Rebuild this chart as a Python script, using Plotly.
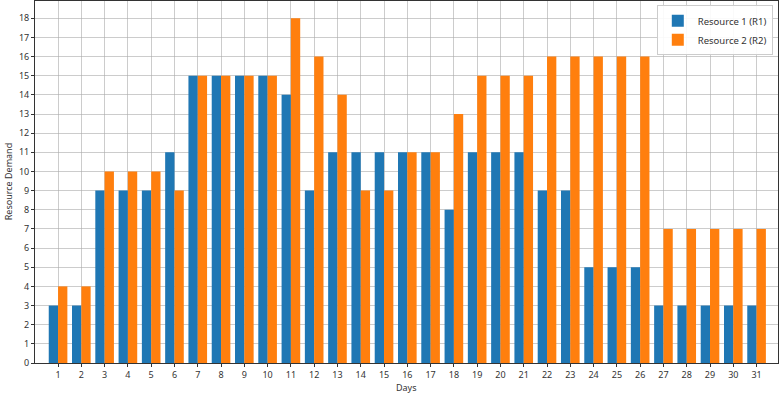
import plotly.graph_objects as go

days = list(range(1, 32))
r1 = [3, 3, 9, 9, 9, 11, 15, 15, 15, 15, 14, 9, 11, 11, 11, 11, 11, 8, 11, 11, 11, 9, 9, 5, 5, 5, 3, 3, 3, 3, 3]
r2 = [4, 4, 10, 10, 10, 9, 15, 15, 15, 15, 18, 16, 14, 9, 9, 11, 11, 13, 15, 15, 15, 16, 16, 16, 16, 16, 7, 7, 7, 7, 7]
y_ticks = list(range(0, 19))

font = "Noto Sans, DejaVu Sans, sans-serif"

fig = go.Figure()
fig.add_trace(go.Bar(x=days, y=r1, name="Resource 1 (R1)", marker=dict(color="#1f77b4", line=dict(width=0))))
fig.add_trace(go.Bar(x=days, y=r2, name="Resource 2 (R2)", marker=dict(color="#ff7f0e", line=dict(width=0))))

fig.update_layout(
    width=780, height=393,
    margin=dict(l=35, r=2, t=1, b=30, autoexpand=False),
    paper_bgcolor="white", plot_bgcolor="white",
    barmode="group", bargap=0.2, bargroupgap=0,
    font=dict(family=font, size=9, color="#333333"),
    showlegend=True,
    legend=dict(x=0.993, y=0.988, xanchor="right", yanchor="top",
                bgcolor="rgba(255,255,255,0.9)", bordercolor="#cccccc", borderwidth=1,
                font=dict(size=9.5, color="#333333"), tracegroupgap=0),
    annotations=[
        dict(text="Days", x=0.5, y=-0.068, xref="paper", yref="paper", showarrow=False,
             xanchor="center", yanchor="middle", font=dict(size=9, color="#333333")),
        dict(text="Resource Demand", x=-0.036, y=0.5, xref="paper", yref="paper", showarrow=False,
             textangle=-90, xanchor="center", yanchor="middle", font=dict(size=9, color="#333333")),
    ],
)
fig.update_xaxes(
    range=[0.01, 31.92], tickmode="array", tickvals=days, ticktext=[str(d) for d in days],
    showgrid=True, gridcolor="rgba(170,170,170,0.6)", gridwidth=1,
    showline=True, linecolor="#333333", linewidth=1, mirror=True,
    ticks="outside", ticklen=3, tickcolor="#333333", layer="above traces",
    zeroline=False, automargin=False,
)
fig.update_yaxes(
    range=[0, 18.9], tickmode="array", tickvals=y_ticks,
    showgrid=True, gridcolor="rgba(170,170,170,0.6)", gridwidth=1,
    showline=True, linecolor="#333333", linewidth=1, mirror=True,
    ticks="outside", ticklen=3, tickcolor="#333333", layer="above traces",
    zeroline=False, automargin=False,
)

fig.write_html("out.html", config={"displayModeBar": False},
               post_script="document.body.style.margin='0';document.body.style.overflow='hidden';")
